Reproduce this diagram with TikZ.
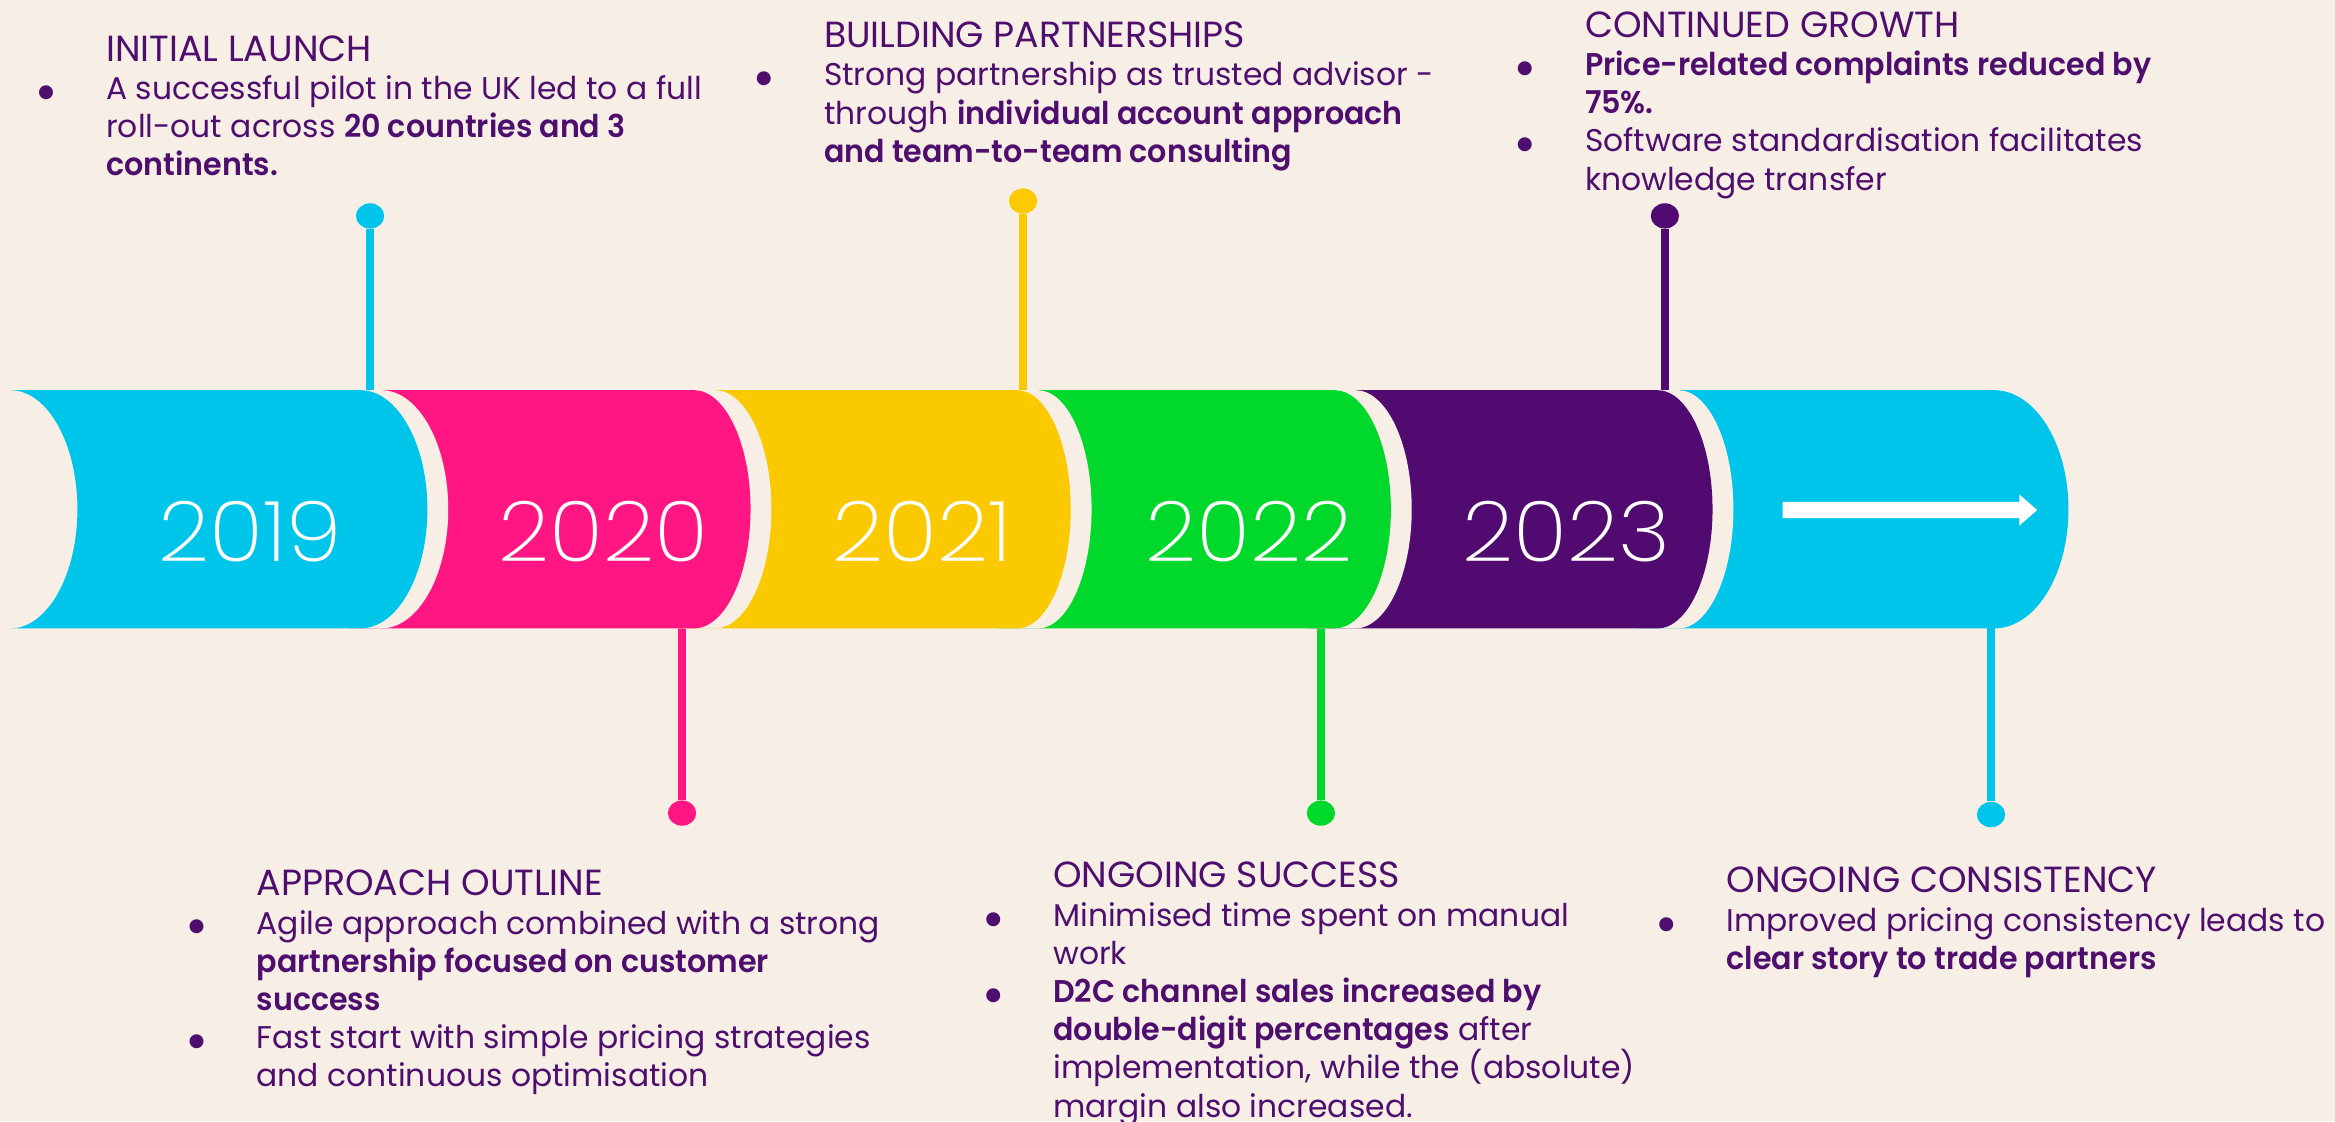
\documentclass[tikz,border=0pt]{standalone}
\usepackage{fontspec}
\setmainfont{Poppins}[BoldFont={Poppins SemiBold},BoldFeatures={FakeStretch=0.96}]
\newfontfamily\yearfont{Poppins ExtraLight}[FakeStretch=1.07]
\newfontfamily\dotfont{DejaVu Sans}
\usepackage{xcolor}
\usepackage{tikz}
\usetikzlibrary{shapes.geometric}

\definecolor{paper}{HTML}{F7EEE6}
\definecolor{ink}{HTML}{4E0E6E}
\definecolor{tlcyan}{HTML}{00C5EB}
\definecolor{tlpink}{HTML}{FF1682}
\definecolor{tlyellow}{HTML}{FBC900}
\definecolor{tlgreen}{HTML}{00D92B}
\definecolor{tlpurple}{HTML}{510B70}

% bullet hanging left of the text column
\newcommand{\bul}{\leavevmode\llap{\raisebox{0.8pt}{\dotfont\fontsize{7}{7}\selectfont ●}\hspace{0.70cm}}}
% heading line of a milestone
\newcommand{\headline}[1]{{\fontsize{13.9}{14.6}\selectfont #1}}
% one drum of the band: left x, right x, bulge of the round end
\newcommand{\drumpath}[3]{(#1,262) -- (#2,262)
  .. controls ({#2+0.552*#3},262) and ({#2+#3},297.8) .. ({#2+#3},342)
  .. controls ({#2+#3},386.2) and ({#2+0.552*#3},422) .. (#2,422)
  -- (#1,422) -- cycle}

\begin{document}
\begin{tikzpicture}[
        x=0.02cm, y=-0.02cm,
        infotext/.style={
            anchor=north west, align=left, text=ink, inner sep=0pt,
            font=\fontsize{12}{14.6}\selectfont
        },
        yearlabel/.style={
            text=white, inner sep=0pt,
            font=\yearfont\fontsize{32}{32}\selectfont
        },
        pinhead/.style={
            ellipse, fill=#1, inner sep=0pt,
            minimum width=0.38cm, minimum height=0.34cm
        },
        pinline/.style={draw=#1, line width=0.11cm}
    ]

    \useasboundingbox (0,0) rectangle (1568,753);
    \fill[paper] (0,0) rectangle (1568,753);

    % Pins (behind the band)
    \node[pinhead=tlcyan] (p19) at (248.5,145) {};
    \node[pinhead=tlpink] (p20) at (458,546) {};
    \node[pinhead=tlyellow] (p21) at (687,135) {};
    \node[pinhead=tlgreen] (p22) at (887,546) {};
    \node[pinhead=tlpurple] (p23) at (1118,145) {};
    \node[pinhead=tlcyan] (p24) at (1337,547) {};

    \coordinate (b19) at (248.5,270);
    \coordinate (b20) at (458,414);
    \coordinate (b21) at (687,270);
    \coordinate (b22) at (887,414);
    \coordinate (b23) at (1118,270);
    \coordinate (b24) at (1337,414);

    \draw[pinline=tlcyan] (p19) -- (b19);
    \draw[pinline=tlpink] (b20) -- (p20);
    \draw[pinline=tlyellow] (p21) -- (b21);
    \draw[pinline=tlgreen] (b22) -- (p22);
    \draw[pinline=tlpurple] (p23) -- (b23);
    \draw[pinline=tlcyan] (b24) -- (p24);

    % Band, drawn right to left so each drum overlaps the next one
    \fill[tlcyan] \drumpath{1100}{1339}{50};
    \fill[paper] \drumpath{880}{1127}{37};
    \fill[tlpurple] \drumpath{880}{1113}{37};
    \fill[paper] \drumpath{670}{910}{38};
    \fill[tlgreen] \drumpath{670}{896}{38};
    \fill[paper] \drumpath{455}{697}{36};
    \fill[tlyellow] \drumpath{455}{683}{36};
    \fill[paper] \drumpath{235}{480}{38};
    \fill[tlpink] \drumpath{235}{466}{38};
    \fill[paper] \drumpath{7}{256}{45};
    \fill[tlcyan] (7,262) -- (242,262)
        .. controls (266.8,262) and (287,297.8) .. (287,342)
        .. controls (287,386.2) and (266.8,422) .. (242,422)
        -- (7,422)
        .. controls (31.8,422) and (52,386.2) .. (52,342)
        .. controls (52,297.8) and (31.8,262) .. (7,262) -- cycle;

    % Years
    \node[yearlabel] (y19) at (168,357) {2019};
    \node[yearlabel] (y20) at (405,357) {2020};
    \node[yearlabel] (y21) at (619,357) {2021};
    \node[yearlabel] (y22) at (839,357) {2022};
    \node[yearlabel] (y23) at (1052,357) {2023};
    \fill[white] (1197,337) -- (1356,337) -- (1356,332) -- (1368,342.5)
        -- (1356,353) -- (1356,348) -- (1197,348) -- cycle;

    % Milestone texts
    \node[infotext] (t19) at (71,23.5) {\headline{INITIAL LAUNCH}\\
        \bul A successful pilot in the UK led to a full\\
        roll-out across \textbf{20 countries and 3}\\
        \textbf{continents.}};
    \node[infotext] (t21) at (553,14.5) {\headline{BUILDING PARTNERSHIPS}\\
        \bul Strong partnership as trusted advisor -\\
        through \textbf{individual account approach}\\
        \textbf{and team-to-team consulting}};
    \node[infotext] (t23) at (1064,7.5) {\headline{CONTINUED GROWTH}\\
        \bul\textbf{Price-related complaints reduced by}\\
        \textbf{75\%.}\\
        \bul Software standardisation facilitates\\
        knowledge transfer};
    \node[infotext] (t20) at (172,584) {\headline{APPROACH OUTLINE}\\
        \bul Agile approach combined with a strong\\
        \textbf{partnership focused on customer}\\
        \textbf{success}\\
        \bul Fast start with simple pricing strategies\\
        and continuous optimisation};
    \node[infotext] (t22) at (707,578.7) {\headline{ONGOING SUCCESS}\\
        \bul Minimised time spent on manual\\
        work\\
        \bul\textbf{D2C channel sales increased by}\\
        \textbf{double-digit percentages} after\\
        implementation, while the (absolute)\\
        margin also increased.};
    \node[infotext] (t24) at (1159,582) {\headline{ONGOING CONSISTENCY}\\
        \bul Improved pricing consistency leads to\\
        \textbf{clear story to trade partners}};

\end{tikzpicture}
\end{document}
